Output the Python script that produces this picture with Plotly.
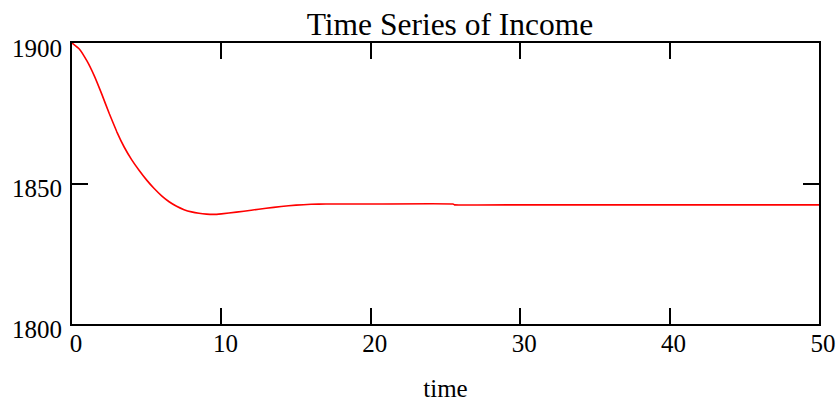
import plotly.graph_objects as go

time = [0, 0.5, 1, 1.5, 2, 2.5, 3, 3.5, 4, 4.5, 5, 5.5, 6, 6.5, 7, 7.5, 8, 8.5, 9, 9.5,
        10, 11, 12, 13, 14, 15, 16, 17, 20, 25.5, 25.6, 30, 40, 50]
income = [1900, 1897.8, 1893.6, 1888.2, 1881.7, 1874.8, 1868.4, 1862.9, 1858.4, 1854.6,
          1851.2, 1848.2, 1845.6, 1843.5, 1841.9, 1840.7, 1839.9, 1839.4, 1839.1, 1839.0,
          1839.2, 1839.8, 1840.5, 1841.2, 1841.8, 1842.3, 1842.6, 1842.7, 1842.7, 1842.7,
          1842.4, 1842.4, 1842.4, 1842.4]

x_ticks = [0, 10, 20, 30, 40, 50]
y_ticks = [1800, 1850, 1900]

FONT = "Liberation Serif, Times New Roman, serif"

fig = go.Figure()
fig.add_trace(go.Scatter(x=time, y=income, mode="lines",
                         line=dict(color="#ff0000", width=1.6, shape="spline", smoothing=0.3),
                         hoverinfo="skip", showlegend=False))

fig.update_layout(
    width=837, height=403,
    margin=dict(l=72, r=18, t=43, b=79),
    paper_bgcolor="white", plot_bgcolor="white",
    font=dict(family=FONT, size=25, color="black"),
    title=dict(text="Time Series of Income", x=450 / 837, xanchor="center",
               y=1 - 24 / 403, yanchor="middle", yref="container",
               font=dict(family=FONT, size=31.5, color="black")),
)
fig.update_xaxes(range=[0, 50], tickvals=x_ticks, ticktext=[str(v) for v in x_ticks],
                 showgrid=False, zeroline=False, showline=True, linecolor="black", linewidth=2,
                 mirror="allticks", ticks="inside", ticklen=16, tickwidth=1.5, tickcolor="black",
                 tickfont=dict(family=FONT, size=25), ticklabelstandoff=-4, ticklabelshift=4,
                 title=dict(text="time", font=dict(family=FONT, size=25), standoff=23),
                 automargin=False)
fig.update_yaxes(range=[1800, 1900], tickvals=y_ticks, ticktext=[str(v) for v in y_ticks],
                 showgrid=False, zeroline=False, showline=True, linecolor="black", linewidth=2,
                 mirror="allticks", ticks="inside", ticklen=16, tickwidth=1.5, tickcolor="black",
                 tickfont=dict(family=FONT, size=25), ticklabelstandoff=3, ticklabelshift=5,
                 automargin=False)

fig.write_html("out.html", config={"displayModeBar": False},
               post_script="document.body.style.margin='0';document.body.style.overflow='hidden';")
